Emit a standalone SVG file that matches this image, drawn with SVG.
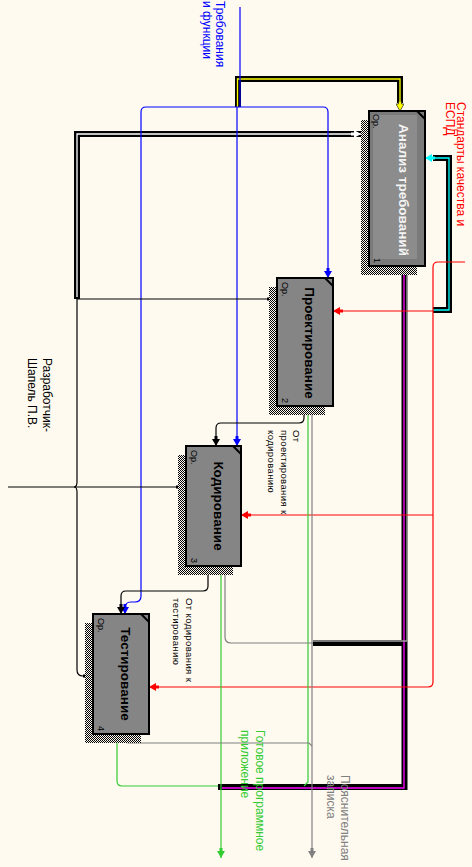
<svg xmlns="http://www.w3.org/2000/svg" width="472" height="867" viewBox="0 0 472 867">
<defs>
<pattern id="hatch" width="2" height="2" patternUnits="userSpaceOnUse">
<rect width="2" height="2" fill="#fffaf0"/>
<rect width="1" height="1" fill="#000"/>
<rect x="1" y="1" width="1" height="1" fill="#000"/>
</pattern>
<marker id="ak" viewBox="0 0 10 8" refX="10" refY="4" markerWidth="10" markerHeight="8" markerUnits="userSpaceOnUse" orient="auto"><path d="M0,2.5 H3 V0 L10,4 L3,8 V5.5 H0 z" fill="#000"/></marker>
<marker id="ab" viewBox="0 0 10 8" refX="10" refY="4" markerWidth="10" markerHeight="8" markerUnits="userSpaceOnUse" orient="auto"><path d="M0,2.5 H3 V0 L10,4 L3,8 V5.5 H0 z" fill="#0000ff"/></marker>
<marker id="ar" viewBox="0 0 10 8" refX="10" refY="4" markerWidth="10" markerHeight="8" markerUnits="userSpaceOnUse" orient="auto"><path d="M0,2.5 H3 V0 L10,4 L3,8 V5.5 H0 z" fill="#ff0000"/></marker>
<marker id="ag" viewBox="0 0 10 8" refX="10" refY="4" markerWidth="10" markerHeight="8" markerUnits="userSpaceOnUse" orient="auto"><path d="M0,2.5 H3 V0 L10,4 L3,8 V5.5 H0 z" fill="#33cc33"/></marker>
<marker id="agr" viewBox="0 0 10 8" refX="10" refY="4" markerWidth="10" markerHeight="8" markerUnits="userSpaceOnUse" orient="auto"><path d="M0,2.5 H3 V0 L10,4 L3,8 V5.5 H0 z" fill="#808080"/></marker>
<marker id="ay" viewBox="0 0 10 8" refX="10" refY="4" markerWidth="10" markerHeight="8" markerUnits="userSpaceOnUse" orient="auto"><path d="M0,2.5 H3 V0 L10,4 L3,8 V5.5 H0 z" fill="#ffff00" stroke="#000" stroke-width="0.6"/></marker>
<marker id="ac" viewBox="0 0 10 8" refX="10" refY="4" markerWidth="10" markerHeight="8" markerUnits="userSpaceOnUse" orient="auto"><path d="M0,2.5 H3 V0 L10,4 L3,8 V5.5 H0 z" fill="#00ffff"/></marker>
<marker id="aw" viewBox="0 0 10 8" refX="10" refY="4" markerWidth="10" markerHeight="8" markerUnits="userSpaceOnUse" orient="auto"><path d="M0,2.5 H3 V0 L10,4 L3,8 V5.5 H0 z" fill="#ffffff"/></marker>
<style>
.box{fill:#858585;stroke:#000;stroke-width:2}
.shd{fill:url(#hatch)}
.ttl{font-family:"Liberation Sans",Arial,sans-serif;font-weight:bold;font-size:13.5px;fill:#000;text-anchor:middle}
.op{font-family:"Liberation Sans",Arial,sans-serif;font-size:9px;fill:#000}
.num{font-family:"Liberation Sans",Arial,sans-serif;font-size:9px;fill:#000;text-anchor:end}
.lbl{font-family:"Liberation Sans",Arial,sans-serif;font-size:12px}
.cap{font-family:"Liberation Sans",Arial,sans-serif;font-size:9.5px;letter-spacing:0.4px;fill:#000}
.ln{fill:none;stroke-width:1.2}
.thick{fill:none;stroke:#000;stroke-width:6;stroke-linejoin:miter}
.inner{fill:none;stroke-width:1.3}
</style>
</defs>
<rect width="472" height="867" fill="#fffaf0"/>

<g id="connectors">
  <!-- thick tunnel lines (black outer) -->
  <path class="thick" d="M77,299 V134 H361"/>
  <path class="thick" d="M238,107 V79 H400 V103"/>
  <path class="thick" stroke-width="5" d="M433,310 H449 V158 H433"/>
  <path class="thick" d="M404.5,266 V787 H218"/>
  <path class="thick" stroke-width="5" d="M404,643 H313"/>
  <!-- inner colored lines -->
  <path class="inner" stroke="#ffffff" d="M77,297 V134 H361" marker-end="url(#aw)"/>
  <path class="inner" stroke="#ffff00" d="M237.5,107 V79 H400 V111" marker-end="url(#ay)"/>
  <path class="inner" stroke="#00ffff" d="M433,310 H449 V158 H425" marker-end="url(#ac)"/>
  <path class="inner" stroke="#ff00ff" d="M404,266 V788 H222"/>
  <path class="inner" stroke="#a0a0a0" d="M407,266 V641 H313"/>

  <!-- blue: Требования и функции -->
  <path class="ln" stroke="#0000ff" d="M240,7 V107"/>
  <path class="ln" stroke="#0000ff" d="M240,107 H323 Q328,107 328,112 V278" marker-end="url(#ab)"/>
  <path class="ln" stroke="#0000ff" d="M237,107 V446" marker-end="url(#ab)"/>
  <path class="ln" stroke="#0000ff" d="M240,107 H146 Q141,107 141,112 V596 Q141,602 135,602 H131 Q125,602 125,608 V614" marker-end="url(#ab)"/>

  <!-- red: Стандарты качества и ЕСПД -->
  <path class="ln" stroke="#ff0000" d="M465,262 H438 Q433,262 433,267 V682 Q433,687 428,687 H149" marker-end="url(#ar)"/>
  <path class="ln" stroke="#ff0000" d="M433,311 H333" marker-end="url(#ar)"/>
  <path class="ln" stroke="#ff0000" d="M433,515 H241" marker-end="url(#ar)"/>

  <!-- black mechanism -->
  <path class="ln" stroke="#000" d="M77,299 H277" marker-end="url(#ak)"/>
  <path class="ln" stroke="#000" d="M77,299 V482 Q77,487 74,487 Q77,487 77,492 V670 Q77,676 83,676 H93" marker-end="url(#ak)"/>
  <path class="ln" stroke="#000" d="M8,487 H186" marker-end="url(#ak)"/>

  <!-- black box-to-box -->
  <path class="ln" stroke="#000" d="M304,406 V418 Q304,423 299,423 H221 Q216,423 216,428 V446" marker-end="url(#ak)"/>
  <path class="ln" stroke="#000" d="M208,566 V586 Q208,591 203,591 H126 Q121,591 121,596 V614" marker-end="url(#ak)"/>

  <!-- green outputs -->
  <path class="ln" stroke="#33cc33" d="M221,566 V858" marker-end="url(#ag)"/>
  <path class="ln" stroke="#33cc33" d="M117,734 V781 Q117,786 122,786 H218"/>
  <path class="ln" stroke="#33cc33" d="M308,406 V782 L304,786"/>

  <!-- gray outputs -->
  <path class="ln" stroke="#808080" d="M312,406 V858" marker-end="url(#agr)"/>
  <path class="ln" stroke="#808080" d="M124,734 V738 Q124,743 129,743 H309 L312,746"/>
  <path class="ln" stroke="#808080" d="M225,566 V637 Q225,643 231,643 H313"/>
</g>

<g id="node1">
  <rect class="shd" x="361" y="120" width="56" height="155"/>
  <rect class="box" x="369" y="111" width="56" height="155" fill="#7a7a7a" style="fill:#7a7a7a"/>
  <rect x="373" y="115" width="44" height="144" fill="#8c8c8c"/>
  <path d="M417,111 L425,119" stroke="#000" stroke-width="2"/>
  <text class="ttl" transform="translate(399,190) rotate(90)" style="fill:#f4f4f4">Анализ требований</text>
  <text class="op" transform="translate(373,114) rotate(90)">Ор.</text>
  <text class="num" transform="translate(374,263) rotate(90)">1</text>
</g>

<g id="node2">
  <rect class="shd" x="269" y="287" width="56" height="128"/>
  <rect class="box" x="277" y="278" width="56" height="128"/>
  <path d="M325,278 L333,286" stroke="#000" stroke-width="2"/>
  <text class="ttl" transform="translate(305,343) rotate(90)">Проектирование</text>
  <text class="op" transform="translate(282,282) rotate(90)">Ор.</text>
  <text class="num" transform="translate(282,403) rotate(90)">2</text>
</g>

<g id="node3">
  <rect class="shd" x="178" y="455" width="55" height="120"/>
  <rect class="box" x="186" y="446" width="55" height="120"/>
  <path d="M233,446 L241,454" stroke="#000" stroke-width="2"/>
  <text class="ttl" transform="translate(213.5,506) rotate(90)">Кодирование</text>
  <text class="op" transform="translate(191,450) rotate(90)">Ор.</text>
  <text class="num" transform="translate(191,563) rotate(90)">3</text>
</g>

<g id="node4">
  <rect class="shd" x="85" y="623" width="56" height="120"/>
  <rect class="box" x="93" y="614" width="56" height="120"/>
  <path d="M141,614 L149,622" stroke="#000" stroke-width="2"/>
  <text class="ttl" transform="translate(121,674) rotate(90)">Тестирование</text>
  <text class="op" transform="translate(98,618) rotate(90)">Ор.</text>
  <text class="num" transform="translate(98,731) rotate(90)">4</text>
</g>

<g id="labels">
  <text class="lbl" fill="#0000ff" transform="translate(216,1) rotate(90)">Требования</text>
  <text class="lbl" fill="#0000ff" transform="translate(203,1) rotate(90)">и функции</text>
  <text class="lbl" fill="#ff0000" transform="translate(457,102) rotate(90)">Стандарты качества и</text>
  <text class="lbl" fill="#ff0000" transform="translate(446,102) rotate(90)">ЕСПД</text>
  <text class="lbl" fill="#000" transform="translate(43,358) rotate(90)">Разработчик-</text>
  <text class="lbl" fill="#000" transform="translate(28,358) rotate(90)">Шапель П.В.</text>
  <text class="lbl" fill="#33cc33" transform="translate(256,730) rotate(90)">Готовое программное</text>
  <text class="lbl" fill="#33cc33" transform="translate(241,730) rotate(90)">приложение</text>
  <text class="lbl" fill="#808080" transform="translate(341,775) rotate(90)">Пояснительная</text>
  <text class="lbl" fill="#808080" transform="translate(327,775) rotate(90)">записка</text>
  <text class="cap" transform="translate(293,430) rotate(90)">От</text>
  <text class="cap" transform="translate(281,430) rotate(90)">проектирования к</text>
  <text class="cap" transform="translate(268,430) rotate(90)">кодированию</text>
  <text class="cap" transform="translate(186,598) rotate(90)">От кодирования к</text>
  <text class="cap" transform="translate(173,598) rotate(90)">тестированию</text>
</g>
</svg>
